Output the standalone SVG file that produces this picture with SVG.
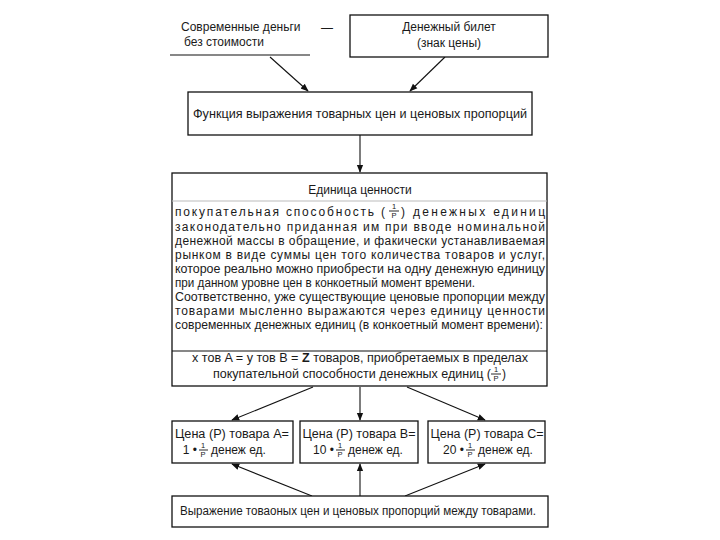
<svg xmlns="http://www.w3.org/2000/svg" width="720" height="540" viewBox="0 0 720 540">
<style>
text{font-family:"Liberation Sans",Arial,sans-serif;font-size:12px;fill:#1a1a1a}
.c{text-anchor:middle}
.e{text-anchor:end}
.f{font-size:7.5px}
.box{fill:#fff;stroke:#111;stroke-width:1.3}
.ln{stroke:#111;stroke-width:1.1;fill:none}
.bar{stroke:#111;stroke-width:0.9}
</style>
<defs>
<marker id="ah" viewBox="0 0 10 10" refX="9" refY="5" markerWidth="8" markerHeight="8" markerUnits="userSpaceOnUse" orient="auto">
<path d="M0,1 L10,5 L0,9 Z" fill="#111"/>
</marker>
</defs>
<rect width="720" height="540" fill="#fff"/>

<g id="connectors">
<line class="ln" x1="270" y1="57" x2="308" y2="91" marker-end="url(#ah)"/>
<line class="ln" x1="445" y1="57" x2="410" y2="91" marker-end="url(#ah)"/>
<line class="ln" x1="360" y1="135" x2="360" y2="172" marker-end="url(#ah)"/>
<line class="ln" x1="313" y1="387" x2="232" y2="420" marker-end="url(#ah)"/>
<line class="ln" x1="360" y1="387" x2="360" y2="420" marker-end="url(#ah)"/>
<line class="ln" x1="407" y1="387" x2="485" y2="420" marker-end="url(#ah)"/>
<line class="ln" x1="312" y1="496" x2="232" y2="464" marker-end="url(#ah)"/>
<line class="ln" x1="360" y1="496" x2="360" y2="464" marker-end="url(#ah)"/>
<line class="ln" x1="405" y1="496" x2="485" y2="464" marker-end="url(#ah)"/>
</g>

<g id="modern-money">
<text x="181" y="31">Современные деньги</text>
<text x="184" y="46">без стоимости</text>
<line class="ln" x1="170" y1="55" x2="310" y2="55"/>
<text x="327" y="32" class="c">—</text>
</g>

<g id="banknote">
<rect class="box" x="350" y="15" width="198" height="42"/>
<text x="449" y="31" class="c">Денежный билет</text>
<text x="449" y="47" class="c">(знак цены)</text>
</g>

<g id="function">
<rect class="box" x="188" y="92" width="344" height="43"/>
<text x="360" y="118" class="c" textLength="334" lengthAdjust="spacingAndGlyphs">Функция выражения товарных цен и ценовых пропорций</text>
</g>

<g id="value-unit">
<rect class="box" x="172" y="173" width="375" height="213"/>
<line x1="172" y1="201" x2="547" y2="201" stroke="#bbb" stroke-width="1"/>
<line class="ln" x1="172" y1="351" x2="547" y2="351"/>
<text x="360" y="194" class="c">Единица ценности</text>
<text x="175" y="216" textLength="210" lengthAdjust="spacing">покупательная способность (</text>
<text x="394" y="209" class="c f">1</text>
<line class="bar" x1="389" y1="211" x2="399" y2="211"/>
<text x="394" y="218" class="c f">P</text>
<text x="401" y="216" textLength="144" lengthAdjust="spacing">) денежных единиц</text>
<text x="175" y="231" textLength="370" lengthAdjust="spacing">законодательно приданная им при вводе номинальной</text>
<text x="175" y="245" textLength="370" lengthAdjust="spacing">денежной массы в обращение, и факически устанавливаемая</text>
<text x="175" y="259" textLength="370" lengthAdjust="spacing">рынком в виде суммы цен того количества товаров и услуг,</text>
<text x="175" y="273" textLength="370" lengthAdjust="spacingAndGlyphs">которое реально можно приобрести на одну денежную единицу</text>
<text x="175" y="287" textLength="300" lengthAdjust="spacingAndGlyphs">при данном уровне цен в конкоетный момент времени.</text>
<text x="175" y="301" textLength="370" lengthAdjust="spacingAndGlyphs">Соответственно, уже существующие ценовые пропорции между</text>
<text x="175" y="315" textLength="370" lengthAdjust="spacing">товарами мысленно выражаются через единицу ценности</text>
<text x="175" y="329" textLength="368" lengthAdjust="spacingAndGlyphs">современных денежных единиц (в конкоетный момент времени):</text>
<text x="360" y="362" class="c" textLength="336" lengthAdjust="spacingAndGlyphs">x тов A = y тов B = <tspan font-weight="bold">Z</tspan> товаров, приобретаемых в пределах</text>
<text x="213" y="378" textLength="278" lengthAdjust="spacingAndGlyphs">покупательной способности денежных единиц (</text>
<text x="496" y="372" class="c f">1</text>
<line class="bar" x1="491" y1="374" x2="501" y2="374"/>
<text x="496" y="381" class="c f">P</text>
<text x="502" y="378">)</text>
</g>

<g id="price-a">
<rect class="box" x="172" y="421" width="121" height="42"/>
<text x="232" y="438" class="c" textLength="114" lengthAdjust="spacingAndGlyphs">Цена (P) товара A=</text>
<text x="197" y="454" class="e">1 •</text>
<text x="203" y="448" class="c f">1</text>
<line class="bar" x1="199" y1="450" x2="208" y2="450"/>
<text x="203" y="457" class="c f">P</text>
<text x="211" y="454">денеж ед.</text>
</g>

<g id="price-b">
<rect class="box" x="300" y="421" width="118" height="42"/>
<text x="359" y="438" class="c" textLength="113" lengthAdjust="spacingAndGlyphs">Цена (P) товара B=</text>
<text x="334" y="454" class="e">10 •</text>
<text x="340" y="448" class="c f">1</text>
<line class="bar" x1="336" y1="450" x2="345" y2="450"/>
<text x="340" y="457" class="c f">P</text>
<text x="348" y="454">денеж ед.</text>
</g>

<g id="price-c">
<rect class="box" x="428" y="421" width="117" height="42"/>
<text x="487" y="438" class="c" textLength="113" lengthAdjust="spacingAndGlyphs">Цена (P) товара C=</text>
<text x="464" y="454" class="e">20 •</text>
<text x="470" y="448" class="c f">1</text>
<line class="bar" x1="466" y1="450" x2="475" y2="450"/>
<text x="470" y="457" class="c f">P</text>
<text x="478" y="454">денеж ед.</text>
</g>

<g id="expression">
<rect class="box" x="172" y="496" width="376" height="31"/>
<text x="358" y="515" class="c" textLength="356" lengthAdjust="spacingAndGlyphs">Выражение товаоных цен и ценовых пропорций между товарами.</text>
</g>
</svg>
